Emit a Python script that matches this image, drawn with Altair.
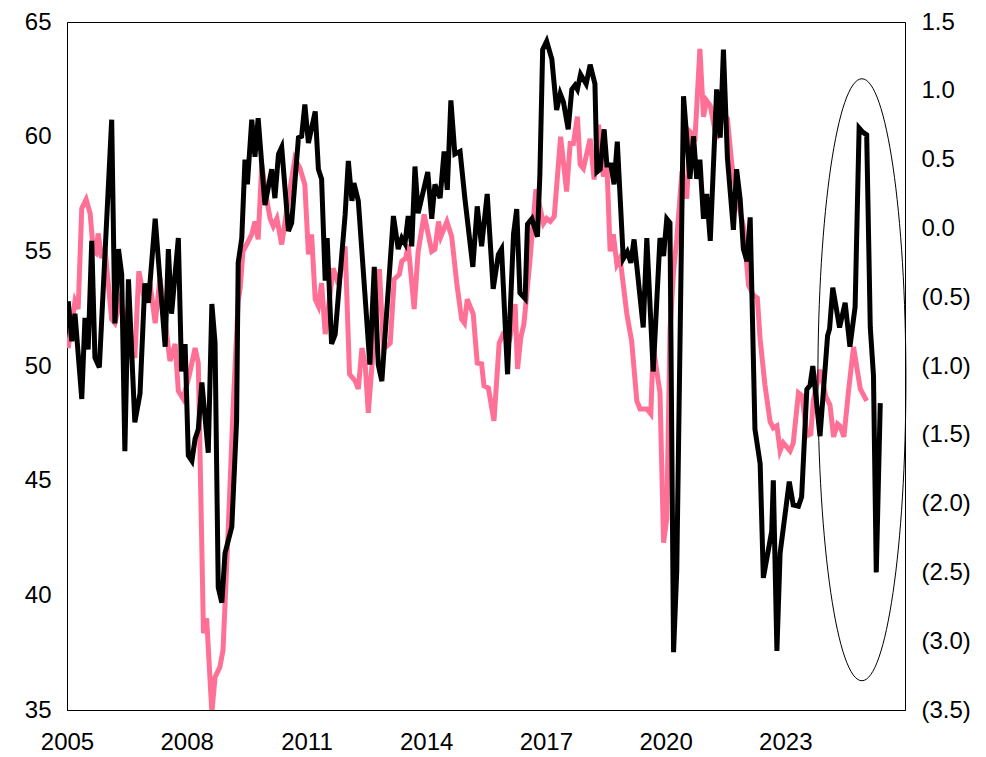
import altair as alt
import pandas as pd

# Pink series (left axis)
pink_year = [2005.03, 2005.20, 2005.28, 2005.37, 2005.48, 2005.58, 2005.66, 2005.73, 2005.78, 2005.87,
             2005.95, 2006.12, 2006.20, 2006.33, 2006.48, 2006.60, 2006.70, 2006.80, 2006.95, 2007.08,
             2007.21, 2007.33, 2007.46, 2007.58, 2007.71, 2007.79, 2007.91, 2008.06, 2008.21, 2008.29,
             2008.42, 2008.50, 2008.63, 2008.71, 2008.83, 2008.91, 2009.00, 2009.09, 2009.17, 2009.29,
             2009.34, 2009.41, 2009.54, 2009.63, 2009.71, 2009.79, 2009.88, 2009.99, 2010.09, 2010.17,
             2010.26, 2010.38, 2010.55, 2010.71, 2010.84, 2010.96, 2011.05, 2011.13, 2011.22, 2011.30,
             2011.38, 2011.47, 2011.67, 2011.80, 2011.97, 2012.08, 2012.22, 2012.30, 2012.39, 2012.47,
             2012.55, 2012.83, 2012.93, 2013.10, 2013.20, 2013.33, 2013.39, 2013.49, 2013.55, 2013.70,
             2013.80, 2013.95, 2014.14, 2014.22, 2014.31, 2014.37, 2014.52, 2014.64, 2014.77, 2014.89,
             2014.96, 2015.03, 2015.18, 2015.28, 2015.39, 2015.45, 2015.56, 2015.70, 2015.83, 2015.93,
             2016.10, 2016.23, 2016.29, 2016.37, 2016.45, 2016.60, 2016.75, 2016.94, 2017.02, 2017.11,
             2017.21, 2017.37, 2017.52, 2017.61, 2017.69, 2017.79, 2017.86, 2017.94, 2018.11, 2018.21,
             2018.32, 2018.44, 2018.53, 2018.61, 2018.69, 2018.78, 2018.86, 2019.03, 2019.15, 2019.28,
             2019.36, 2019.53, 2019.63, 2019.69, 2019.86, 2019.95, 2020.03, 2020.11, 2020.20, 2020.28,
             2020.41, 2020.53, 2020.61, 2020.74, 2020.86, 2020.95, 2021.03, 2021.12, 2021.28, 2021.45,
             2021.55, 2021.66, 2021.78, 2021.95, 2022.08, 2022.20, 2022.30, 2022.37, 2022.49, 2022.62,
             2022.70, 2022.79, 2022.87, 2022.95, 2023.12, 2023.20, 2023.33, 2023.42, 2023.54, 2023.64,
             2023.70, 2023.87, 2024.02, 2024.12, 2024.21, 2024.31, 2024.37, 2024.47, 2024.58, 2024.71,
             2024.88, 2025.04]
pink_value = [50.78, 52.83, 52.48, 56.87, 57.26, 56.65, 55.00, 54.91, 55.78, 54.70,
              55.13, 52.04, 51.87, 52.83, 51.96, 51.30, 50.35, 54.13, 52.83, 53.61,
              51.87, 53.83, 51.96, 50.22, 50.96, 48.91, 48.57, 49.57, 50.78, 50.13,
              38.35, 39.00, 34.90, 36.43, 36.87, 37.61, 41.22, 45.00, 48.48, 52.83,
              53.39, 55.00, 55.43, 55.74, 56.30, 55.52, 58.78, 57.39, 56.43, 56.09,
              56.43, 55.30, 57.30, 59.04, 58.61, 57.91, 54.87, 55.74, 52.91, 52.61,
              53.61, 51.39, 54.26, 53.57, 55.22, 49.65, 49.35, 49.00, 50.78, 50.13,
              47.96, 54.22, 50.74, 51.00, 53.78, 54.00, 54.57, 54.70, 55.30, 52.48,
              55.00, 56.61, 55.00, 55.09, 56.30, 55.65, 56.30, 55.65, 53.57, 52.04,
              51.87, 52.91, 52.26, 50.13, 50.09, 49.13, 49.04, 47.61, 51.00, 51.39,
              51.22, 52.70, 49.87, 51.22, 51.83, 54.57, 57.70, 56.22, 56.43, 56.30,
              56.52, 60.00, 57.61, 59.70, 59.70, 60.87, 58.78, 58.61, 59.91, 58.13,
              60.52, 58.26, 58.78, 55.00, 55.74, 54.43, 54.70, 52.26, 51.09, 48.48,
              48.13, 48.13, 47.91, 50.83, 48.83, 42.30, 43.35, 51.52, 54.13, 55.52,
              58.48, 57.30, 60.22, 60.00, 63.83, 60.87, 61.57, 61.35, 59.91, 61.00,
              60.78, 58.78, 57.43, 56.09, 53.52, 53.09, 52.96, 51.17, 49.17, 47.57,
              47.30, 47.39, 46.30, 46.65, 46.30, 46.65, 48.83, 48.70, 46.96, 47.04,
              48.48, 49.83, 48.65, 48.30, 46.91, 47.48, 47.39, 46.91, 48.83, 50.83,
              49.00, 48.48]

# Black series (right axis)
black_year = [2005.03, 2005.12, 2005.20, 2005.37, 2005.45, 2005.53, 2005.62, 2005.70, 2005.81, 2006.12,
              2006.20, 2006.29, 2006.37, 2006.45, 2006.54, 2006.70, 2006.83, 2006.95, 2007.04, 2007.21,
              2007.46, 2007.54, 2007.62, 2007.79, 2007.87, 2007.96, 2008.04, 2008.13, 2008.21, 2008.29,
              2008.38, 2008.54, 2008.63, 2008.71, 2008.79, 2008.88, 2008.96, 2009.13, 2009.25, 2009.29,
              2009.38, 2009.46, 2009.52, 2009.63, 2009.71, 2009.79, 2009.96, 2010.13, 2010.21, 2010.30,
              2010.38, 2010.55, 2010.63, 2010.80, 2010.88, 2010.96, 2011.05, 2011.22, 2011.30, 2011.38,
              2011.47, 2011.52, 2011.63, 2011.72, 2011.97, 2012.05, 2012.14, 2012.19, 2012.30, 2012.43,
              2012.59, 2012.70, 2012.80, 2012.89, 2013.18, 2013.30, 2013.39, 2013.47, 2013.55, 2013.64,
              2013.72, 2013.80, 2014.04, 2014.14, 2014.22, 2014.35, 2014.45, 2014.53, 2014.62, 2014.72,
              2014.85, 2014.97, 2015.17, 2015.28, 2015.39, 2015.53, 2015.68, 2015.81, 2015.89, 2016.04,
              2016.19, 2016.27, 2016.35, 2016.48, 2016.54, 2016.65, 2016.79, 2016.85, 2016.92, 2017.02,
              2017.15, 2017.27, 2017.36, 2017.44, 2017.56, 2017.65, 2017.73, 2017.79, 2017.87, 2018.01,
              2018.11, 2018.23, 2018.28, 2018.36, 2018.46, 2018.53, 2018.63, 2018.71, 2018.79, 2018.94,
              2019.04, 2019.13, 2019.21, 2019.44, 2019.53, 2019.69, 2019.86, 2019.95, 2020.03, 2020.11,
              2020.20, 2020.28, 2020.45, 2020.61, 2020.70, 2020.78, 2020.86, 2020.95, 2021.03, 2021.12,
              2021.28, 2021.37, 2021.45, 2021.55, 2021.70, 2021.78, 2021.87, 2021.95, 2022.04, 2022.12,
              2022.24, 2022.37, 2022.45, 2022.66, 2022.70, 2022.79, 2022.87, 2023.10, 2023.20, 2023.33,
              2023.41, 2023.54, 2023.62, 2023.69, 2023.87, 2024.06, 2024.11, 2024.19, 2024.36, 2024.50,
              2024.62, 2024.75, 2024.85, 2024.94, 2025.04, 2025.13, 2025.21, 2025.28, 2025.38]
black_value = [-0.53, -0.82, -0.62, -1.24, -0.65, -0.88, -0.09, -0.94, -1.01, 0.79,
               -0.69, -0.15, -0.33, -1.62, -0.37, -1.41, -1.20, -0.40, -0.54, 0.07,
               -0.86, -0.15, -0.62, -0.07, -1.04, -0.84, -1.65, -1.69, -1.53, -1.46,
               -1.12, -1.63, -0.55, -0.83, -2.61, -2.72, -2.36, -2.17, -1.40, -0.25,
               -0.07, 0.50, 0.32, 0.79, 0.52, 0.80, 0.17, 0.43, 0.22, 0.54,
               0.59, -0.02, 0.04, 0.66, 0.67, 0.90, 0.62, 0.85, 0.43, 0.36,
               -0.38, -0.07, -0.84, -0.77, 0.10, 0.49, 0.20, 0.33, 0.20, -0.33,
               -0.99, -0.28, -0.99, -1.11, 0.09, -0.15, -0.07, -0.11, 0.09, -0.13,
               0.45, 0.11, 0.41, 0.07, 0.32, 0.22, 0.56, 0.28, 0.93, 0.54,
               0.56, 0.22, -0.28, 0.16, -0.13, 0.25, -0.44, -0.19, -0.15, -1.06,
               -0.04, 0.14, -0.47, -0.51, 0.03, 0.07, -0.06, 0.39, 1.30, 1.36,
               1.23, 0.86, 0.98, 0.92, 0.72, 1.01, 1.04, 1.01, 1.12, 1.05,
               1.19, 1.05, 0.41, 0.43, 0.72, 0.46, 0.46, 0.32, 0.63, -0.22,
               -0.17, -0.25, -0.08, -0.72, -0.07, -1.04, -0.07, -0.20, 0.07, 0.04,
               -3.08, -2.49, 0.96, 0.36, 0.67, 0.36, 0.50, 0.07, 0.25, -0.09,
               1.01, 0.66, 1.30, 0.51, -0.01, 0.43, 0.21, -0.15, -0.24, 0.08,
               -1.46, -1.71, -2.54, -2.20, -1.83, -3.07, -2.36, -1.84, -2.01, -2.02,
               -1.95, -1.17, -1.14, -1.00, -1.51, -0.78, -0.73, -0.43, -0.72, -0.54,
               -0.86, -0.57, 0.73, 0.70, 0.68, -0.72, -1.07, -2.50, -1.27]

# Annotation ellipse centre (data units: year, left-axis value)
ellipse_year = [2024.92]
ellipse_value = [49.4]

year_ticks = [2005, 2008, 2011, 2014, 2017, 2020, 2023]
left_ticks = [35, 40, 45, 50, 55, 60, 65]
right_ticks = [-3.5, -3.0, -2.5, -2.0, -1.5, -1.0, -0.5, 0.0, 0.5, 1.0, 1.5]

pink_df = pd.DataFrame({"year": pink_year, "value": pink_value})
black_df = pd.DataFrame({"year": black_year, "value": black_value})
ell_df = pd.DataFrame({"year": ellipse_year, "value": ellipse_value})

FONT = "Liberation Sans"
FS = 24

x_enc = alt.X(
    "year:Q",
    scale=alt.Scale(domain=[2005, 2026], nice=False, zero=False),
    axis=alt.Axis(values=year_ticks, format="d", title=None, grid=False, ticks=False,
                  labelFont=FONT, labelFontSize=FS, labelColor="black", labelPadding=20,
                  labelFlush=False, domainColor="black", labelOverlap=False),
)

pink = alt.Chart(pink_df).mark_line(color="#FF7096", strokeWidth=5, clip=True).encode(
    x=x_enc,
    y=alt.Y("value:Q", scale=alt.Scale(domain=[35, 65], nice=False, zero=False),
            axis=alt.Axis(values=left_ticks, title=None, grid=False, ticks=False,
                          labelFont=FONT, labelFontSize=FS, labelColor="black",
                          labelPadding=16, domainColor="black", labelOverlap=False)),
)

ellipse_path = "M -0.1462 0 A 0.1462 1 0 1 1 0.1462 0 A 0.1462 1 0 1 1 -0.1462 0 Z"
ellipse = alt.Chart(ell_df).mark_point(
    shape=ellipse_path, size=362404, filled=False, stroke="black", strokeWidth=1, opacity=1
).encode(
    x=alt.X("year:Q"),
    y=alt.Y("value:Q"),
)

black = alt.Chart(black_df).mark_line(color="black", strokeWidth=5, clip=True).encode(
    x=alt.X("year:Q"),
    y=alt.Y("value:Q", scale=alt.Scale(domain=[-3.5, 1.5], nice=False, zero=False),
            axis=alt.Axis(values=right_ticks, orient="right", title=None, grid=False, ticks=False,
                          labelFont=FONT, labelFontSize=FS, labelColor="black",
                          labelPadding=16, domainColor="black", labelOverlap=False,
                          labelExpr="datum.value < 0 ? '(' + format(-datum.value, '.1f') + ')' : format(datum.value, '.1f')")),
)

left_layer = alt.layer(pink, ellipse)

chart = alt.layer(left_layer, black).resolve_scale(y="independent").properties(
    width=838, height=688,
    autosize=alt.AutoSizeParams(type="none"),
    padding={"left": 59, "top": 14, "right": 73, "bottom": 47},
    background="white",
).configure_view(stroke="black", strokeWidth=1)

chart.save("out.html", embed_options={"renderer": "svg", "actions": False})
